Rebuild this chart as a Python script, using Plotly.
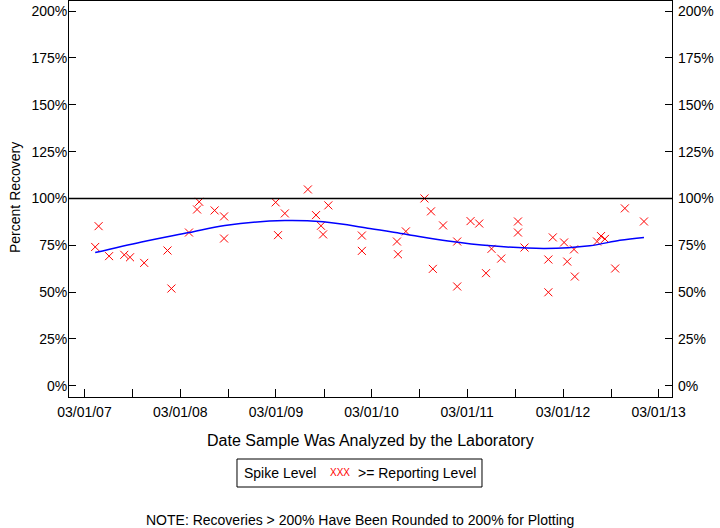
import plotly.graph_objects as go

# ---- data ----
sample_dates = [
    "2007-04-11", "2007-04-24", "2007-06-03", "2007-07-31", "2007-08-22", "2007-10-15",
    "2008-01-12", "2008-01-27", "2008-04-03", "2008-05-04", "2008-05-12", "2008-07-10",
    "2008-08-15", "2008-08-15", "2009-02-28", "2009-03-09", "2009-04-04", "2009-07-01",
    "2009-08-01", "2009-08-20", "2009-08-28", "2009-09-17", "2010-01-23", "2010-01-23",
    "2010-06-06", "2010-06-10", "2010-07-10", "2010-09-19", "2010-10-14", "2010-10-21",
    "2010-11-29", "2011-01-22", "2011-01-22", "2011-03-14", "2011-04-16", "2011-05-12",
    "2011-06-02", "2011-07-09", "2011-09-11", "2011-09-11", "2011-10-06", "2012-01-05",
    "2012-01-05", "2012-01-22", "2012-03-05", "2012-03-17", "2012-04-12", "2012-04-15",
    "2012-07-09", "2012-07-24", "2012-08-08", "2012-09-16", "2012-10-23", "2013-01-04",
]
recovery_pct = [
    74.1, 85.2, 69.2, 69.9, 68.6, 65.6,
    72.2, 51.9, 81.8, 94.1, 98.2, 93.6,
    90.4, 78.6, 97.9, 80.4, 92.0, 104.8,
    91.1, 85.4, 80.8, 96.3, 80.2, 72.0,
    77.0, 70.2, 82.4, 100.0, 93.1, 62.4,
    85.6, 77.0, 53.0, 87.9, 86.6, 60.1,
    73.1, 67.9, 87.7, 81.8, 73.8, 67.4,
    49.9, 79.2, 76.5, 66.3, 72.8, 58.3,
    77.0, 79.9, 78.4, 62.6, 94.7, 87.7,
]

trend_dates = [
    "2007-04-11", "2007-10-05", "2008-04-03", "2008-08-18", "2009-04-04", "2009-08-28",
    "2010-02-22", "2010-07-10", "2010-12-18", "2011-06-01", "2011-12-22", "2012-06-11",
    "2012-10-04", "2013-01-04",
]
trend_pct = [71.1, 76.8, 81.8, 85.6, 88.2, 87.5, 84.0, 80.9, 77.3, 74.7, 73.3, 74.7, 77.7, 79.2]

y_tick_vals = [0, 25, 50, 75, 100, 125, 150, 175, 200]
y_tick_text = ["0%", "25%", "50%", "75%", "100%", "125%", "150%", "175%", "200%"]
x_tick_vals = ["2007-03-01", "2008-03-01", "2009-03-01", "2010-03-01",
               "2011-03-01", "2012-03-01", "2013-03-01"]
x_tick_text = ["03/01/07", "03/01/08", "03/01/09", "03/01/10",
               "03/01/11", "03/01/12", "03/01/13"]
x_minor_vals = ["2007-09-01", "2008-09-01", "2009-09-01", "2010-09-01",
                "2011-09-01", "2012-09-01"]
reference_level = 100

FONT = "Liberation Sans, Arial, sans-serif"

fig = go.Figure()
fig.add_trace(go.Scatter(
    x=sample_dates, y=recovery_pct, mode="markers",
    marker=dict(symbol="x-thin-open", size=8, color="red",
                line=dict(color="red", width=1)),
    showlegend=False, hoverinfo="x+y",
))
fig.add_trace(go.Scatter(
    x=trend_dates, y=trend_pct, mode="lines", yaxis="y2",
    line=dict(color="blue", width=1.5, shape="spline"),
    showlegend=False, hoverinfo="skip",
))

fig.add_shape(type="line", xref="paper", yref="y", x0=0, x1=1,
              y0=reference_level, y1=reference_level,
              line=dict(color="black", width=1.5))

# legend box (drawn manually)
fig.add_shape(type="rect", xref="paper", yref="paper",
              x0=0.2786, x1=0.6849, y0=-0.2273, y1=-0.1566,
              line=dict(color="black", width=1), fillcolor="white")
fig.add_annotation(text="Spike Level", xref="paper", yref="paper",
                   x=0.2874, y=-0.1927, xanchor="left", yanchor="middle",
                   showarrow=False, font=dict(family=FONT, size=14, color="black"))
fig.add_annotation(text="XXX", xref="paper", yref="paper",
                   x=(340 - 69) / 603, y=-0.1910, xanchor="center", yanchor="middle",
                   showarrow=False, font=dict(family=FONT, size=10, color="red"))
fig.add_annotation(text=">= Reporting Level", xref="paper", yref="paper",
                   x=(355.7 - 69) / 603, y=-0.1927, xanchor="left", yanchor="middle",
                   showarrow=False, font=dict(family=FONT, size=14, color="black"))

fig.add_annotation(text="Date Sample Was Analyzed by the Laboratory",
                   xref="paper", yref="paper", x=0.5, y=-0.110,
                   xanchor="center", yanchor="middle", showarrow=False,
                   font=dict(family=FONT, size=16, color="black"))
fig.add_annotation(text="Percent Recovery", xref="paper", yref="paper",
                   x=(15 - 69) / 603, y=(397 - 198) / 396, textangle=-90,
                   xanchor="center", yanchor="middle", showarrow=False,
                   font=dict(family=FONT, size=14, color="black"))
fig.add_annotation(text="NOTE: Recoveries > 200% Have Been Rounded to 200% for Plotting",
                   xref="paper", yref="paper", x=(359.7 - 69) / 603, y=-0.3106,
                   xanchor="center", yanchor="middle", showarrow=False,
                   font=dict(family=FONT, size=14, color="black"))

fig.update_layout(
    width=720, height=528,
    margin=dict(l=69, r=48, t=1, b=131, pad=0),
    plot_bgcolor="white", paper_bgcolor="white",
    font=dict(family=FONT, size=14, color="black"),
    showlegend=False,
    xaxis=dict(
        type="date", range=["2007-01-01", "2013-04-21"],
        tickvals=x_tick_vals, ticktext=x_tick_text,
        ticks="inside", ticklen=8, tickcolor="black", tickwidth=1,
        ticklabelstandoff=2,
        showline=True, linecolor="black", linewidth=1, mirror=True,
        showgrid=False, zeroline=False,
        tickfont=dict(family=FONT, size=14, color="black"),
        minor=dict(tickvals=x_minor_vals, ticks="inside", ticklen=8,
                   tickcolor="black", tickwidth=1, showgrid=False),
    ),
    yaxis=dict(
        range=[-6, 205.4], tickvals=y_tick_vals, ticktext=y_tick_text,
        ticks="inside", ticklen=7, tickcolor="black", tickwidth=1,
        ticklabelstandoff=-2,
        showline=True, linecolor="black", linewidth=1, mirror=True,
        showgrid=False, zeroline=False,
        tickfont=dict(family=FONT, size=14, color="black"),
    ),
    yaxis2=dict(
        overlaying="y", side="right", matches="y",
        tickvals=y_tick_vals, ticktext=y_tick_text,
        ticks="inside", ticklen=7, tickcolor="black", tickwidth=1,
        ticklabelstandoff=5,
        showline=False, showgrid=False, zeroline=False,
        tickfont=dict(family=FONT, size=14, color="black"),
    ),
)

fig.write_html("out.html", config={"displayModeBar": False},
               post_script="document.body.style.margin='0';document.body.style.padding='0';")
